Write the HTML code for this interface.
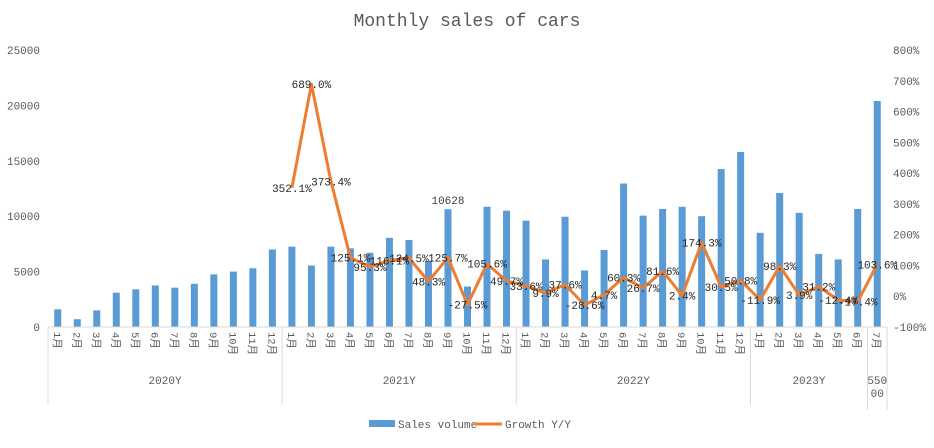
<!DOCTYPE html>
<html><head><meta charset="utf-8"><style>
body{margin:0;background:#fff;}
svg text{font-family:"Liberation Mono","Noto Sans CJK SC",monospace;}
</style></head><body>
<svg id="c" width="934" height="443" xmlns="http://www.w3.org/2000/svg">
<text x="467" y="26" text-anchor="middle" font-size="18" fill="#595959">Monthly sales of cars</text>
</svg>
<script>
const years=["2020Y","2021Y","2022Y","2023Y"];
const monthsPerYear=[12,12,12,7];
const sales=[1600,700,1500,3100,3400,3750,3550,3900,4750,5000,5300,7000,
7250,5550,7250,7100,6700,8050,7850,5950,10628,3650,10850,10500,
9600,6100,9950,5100,6950,12950,10050,10650,10850,10000,14250,15800,
8500,12100,10300,6600,6100,10650,20400];
const growth=[352.1,689.0,373.4,125.1,95.3,116.1,124.5,48.3,125.7,-27.5,105.6,49.7,
33.6,9.9,37.6,-28.6,4.7,60.3,26.7,81.6,2.4,174.3,30.5,50.8,
-11.9,98.3,3.9,31.2,-12.4,-17.4,103.6];
const growthStart=12;
const leftTicks=[0,5000,10000,15000,20000,25000];
const rightTicks=[-100,0,100,200,300,400,500,600,700,800];
const labeledIndex=20;

const svg=document.getElementById('c');
const NS="http://www.w3.org/2000/svg";
const x0=48,x1=887,yTop=50,yBot=327;
const n=sales.length,cw=(x1-x0)/n;
const xc=i=>x0+cw*(i+0.5);
const yL=v=>yBot-(v/25000)*(yBot-yTop);
const yR=v=>yBot-((v+100)/900)*(yBot-yTop);
function el(t,a,txt){const e=document.createElementNS(NS,t);for(const k in a)e.setAttribute(k,a[k]);if(txt!==undefined)e.textContent=txt;svg.appendChild(e);return e;}

leftTicks.forEach(v=>{const t=el('text',{x:40,y:yL(v)+4,'text-anchor':'end','font-size':11,fill:'#595959'},v);

});
rightTicks.forEach(v=>{const t=el('text',{x:893,y:yR(v)+4,'font-size':11,fill:'#595959'},v+'%');

});

sales.forEach((v,i)=>{const r=el('rect',{x:xc(i)-3.5,y:yL(v),width:7,height:yBot-yL(v),fill:'#5b9bd5'});

});
const lt=el('text',{x:xc(labeledIndex),y:yL(sales[labeledIndex])-5,'text-anchor':'middle','font-size':11,fill:'#404040'},sales[labeledIndex]);



const ax=el('line',{x1:x0,y1:yBot,x2:x1,y2:yBot,stroke:'#d9d9d9'});


let idx=0;
monthsPerYear.forEach((m,yi)=>{
  for(let k=0;k<m;k++){const cx=xc(idx+k);
    const t=el('text',{transform:`translate(${cx-4},332) rotate(90)`,'font-size':10.5,fill:'#595959'},(k+1)+'月');
    
    }
  idx+=m;
  const cnt=yi===3?m-1:m;
  const yt=el('text',{x:x0+(idx-m)*cw+cnt*cw/2,y:384,'text-anchor':'middle','font-size':11,fill:'#595959'},years[yi]);
  
  
});
[0,12,24,36,42,43].forEach(b=>{const X=x0+b*cw;const l=el('line',{x1:X,y1:yBot,x2:X,y2:b===42||b===43?410:405,stroke:'#d9d9d9'});

});
const e1=el('text',{x:xc(42),y:384,'text-anchor':'middle','font-size':11,fill:'#595959'},'550');


const e2=el('text',{x:xc(42),y:397,'text-anchor':'middle','font-size':11,fill:'#595959'},'00');



const pts=growth.map((g,j)=>xc(growthStart+j)+','+yR(g)).join(' ');
const pl=el('polyline',{points:pts,fill:'none',stroke:'#ed7d31','stroke-width':3,'stroke-linejoin':'round'});


growth.forEach((g,j)=>{const t=el('text',{x:xc(growthStart+j),y:yR(g)+4,'text-anchor':'middle','font-size':11,fill:'#262626'},g.toFixed(1)+'%');

});

const lr=el('rect',{x:369,y:420,width:26,height:7,fill:'#5b9bd5'});


const lt1=el('text',{x:398,y:428,'font-size':11,fill:'#595959'},'Sales volume');


const ll=el('line',{x1:474,y1:424,x2:502,y2:424,stroke:'#ed7d31','stroke-width':3});


const lt2=el('text',{x:505,y:428,'font-size':11,fill:'#595959'},'Growth Y/Y');


</script>
</body></html>
